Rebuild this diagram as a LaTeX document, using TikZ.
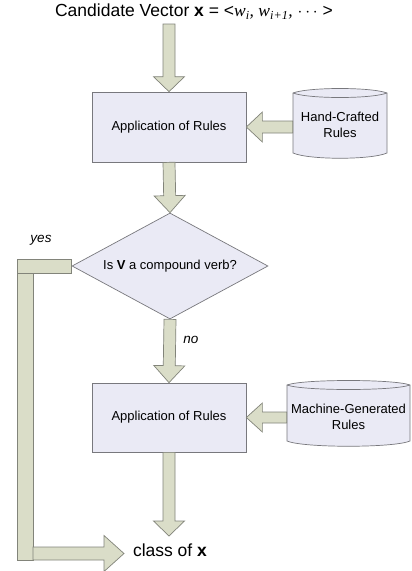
\documentclass[tikz,border=0pt]{standalone}
\usepackage{fontspec}
\setmainfont{Liberation Sans}
\newfontfamily\tms{Liberation Serif}
\usetikzlibrary{calc,shapes.geometric}
\definecolor{arrowfill}{RGB}{218,221,200}
\definecolor{arrowline}{RGB}{130,132,122}
\definecolor{boxfill}{RGB}{234,234,245}
\definecolor{boxline}{RGB}{120,120,125}
\tikzset{
  fat/.style={draw=arrowline, fill=arrowfill, line width=0.7pt, line join=miter},
  procbox/.style={draw=boxline, fill=boxfill, line width=0.7pt, minimum width=154pt, inner sep=0pt, font=\fontsize{13}{15.6}\selectfont},
  decision/.style={diamond, draw=boxline, fill=boxfill, line width=0.7pt, minimum width=196pt, minimum height=106pt, aspect=1.85, inner sep=0pt, font=\fontsize{13}{15.6}\selectfont},
  cyltext/.style={align=center, inner sep=0pt, font=\fontsize{13}{15.6}\selectfont},
  cylshape/.style={draw=boxline, fill=boxfill, line width=0.7pt},
  biglabel/.style={font=\fontsize{17.5}{21}\selectfont, inner sep=0pt},
  branchlabel/.style={font=\fontsize{13.5}{16}\selectfont\itshape, inner sep=0pt}
}
% fat arrow: from, to, shaft half width, head half width, head length
\newcommand\fatarrow[5]{%
  \path (#1) coordinate (fa-a) (#2) coordinate (fa-b) ($(fa-b)!#5!(fa-a)$) coordinate (fa-c);
  \draw[fat] ($(fa-a)!#3!90:(fa-b)$) -- ($(fa-c)!#3!-90:(fa-a)$) -- ($(fa-c)!#4!-90:(fa-a)$) -- (fa-b) -- ($(fa-c)!#4!90:(fa-a)$) -- ($(fa-c)!#3!90:(fa-a)$) -- ($(fa-a)!#3!-90:(fa-b)$) -- cycle;}
% cylinder: x0, x1, ytop, ybot
\newcommand\cylinderdraw[4]{%
  \draw[cylshape] (#1,#3+6) .. controls (#1+16,#3) and (#2-16,#3) .. (#2,#3+6) -- (#2,#4-7) .. controls (#2-16,#4) and (#1+16,#4) .. (#1,#4-7) -- cycle;
  \draw[cylshape, fill=none] (#1,#3+6) .. controls (#1+16,#3+12) and (#2-16,#3+12) .. (#2,#3+6);}
\begin{document}
\begin{tikzpicture}[x=1pt,y=-1pt]
\useasboundingbox[fill=white] (0,0) rectangle (412,571);

% title
\node[biglabel] (title) at (194,12) {Candidate Vector \textbf{x} = <{\tms\itshape w\textsubscript{i}, w\textsubscript{i+1},} $\cdots$ >};
\coordinate (in) at (169,24);

% first rule application
\node[procbox, minimum height=70pt] (box1) at (169,127) {Application of Rules};
\cylinderdraw{293}{387}{87}{160}
\node[cyltext, minimum width=94pt, minimum height=73pt] (cyl1) at (340,125) {Hand-Crafted\\Rules};

% decision
\node[decision] (dia) at (170,266) {Is \textbf{V} a compound verb?};

% second rule application
\node[procbox, minimum height=69pt] (box2) at (169,417.5) {Application of Rules};
\cylinderdraw{287}{410}{379}{448}
\node[cyltext, minimum width=123pt, minimum height=69pt] (cyl2) at (348.5,417) {Machine-Generated\\Rules};

% result
\node[biglabel] (class) at (170,550) {class of \textbf{x}};
\coordinate (out) at (169,536);

% main flow arrows
\fatarrow{in}{box1.north}{6pt}{15.5pt}{15pt}
\fatarrow{box1.south}{dia.north}{6pt}{15.5pt}{17pt}
\fatarrow{dia.south}{box2.north}{6pt}{15.5pt}{17pt}
\fatarrow{box2.south}{out}{6pt}{15.5pt}{15pt}
\fatarrow{cyl1.west |- box1.east}{box1.east}{6pt}{15pt}{16pt}
\fatarrow{cyl2.west |- box2.east}{box2.east}{5.5pt}{14.5pt}{16pt}

% yes branch
\coordinate (ycorner) at (17,259.5);
\coordinate (ybottom) at (33,560);
\coordinate (ystart) at (33,553.5);
\coordinate (ytip) at (124,553.5);
\draw[fat] (ycorner |- 0,273) rectangle (ybottom);
\draw[fat] (ycorner) rectangle (dia.west |- 0,273);
\fatarrow{ystart}{ytip}{6.5pt}{18pt}{20pt}

% branch labels
\node[branchlabel] (yes) at (41,240) {yes};
\node[branchlabel] (no) at (191,340) {no};
\end{tikzpicture}
\end{document}
